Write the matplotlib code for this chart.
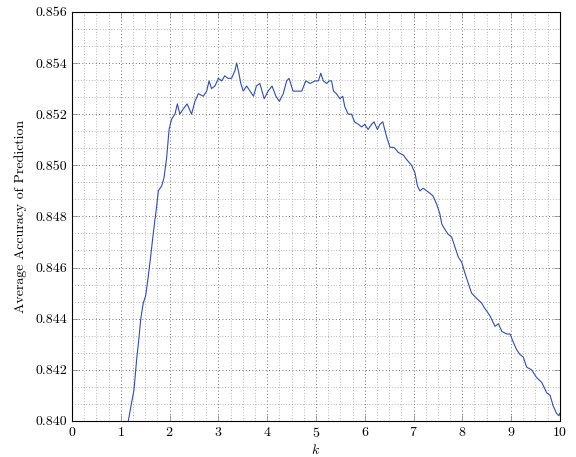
import matplotlib
matplotlib.use('Agg')
import matplotlib.pyplot as plt
from matplotlib.ticker import MultipleLocator, AutoMinorLocator, FormatStrFormatter

# values
k = [1.12, 1.154, 1.22, 1.27, 1.325, 1.37, 1.41, 1.46, 1.51, 1.56, 1.61, 1.67,
     1.735, 1.77, 1.84, 1.885, 1.94, 1.99, 2.04, 2.11, 2.16, 2.21, 2.28, 2.36,
     2.45, 2.52, 2.59, 2.69, 2.76, 2.81, 2.86, 2.93, 3.0, 3.07, 3.13, 3.2, 3.27,
     3.34, 3.375, 3.41, 3.46, 3.51, 3.58, 3.65, 3.72, 3.78, 3.85, 3.94, 4.02,
     4.10, 4.18, 4.25, 4.33, 4.40, 4.45, 4.53, 4.62, 4.71, 4.79, 4.88, 4.98,
     5.05, 5.10, 5.15, 5.22, 5.27, 5.32, 5.36, 5.42, 5.49, 5.55, 5.59, 5.66,
     5.73, 5.79, 5.87, 5.94, 6.0, 6.07, 6.14, 6.19, 6.26, 6.31, 6.37, 6.41,
     6.45, 6.52, 6.60, 6.69, 6.79, 6.87, 6.96, 7.03, 7.08, 7.13, 7.20, 7.27,
     7.34, 7.40, 7.47, 7.54, 7.58, 7.64, 7.71, 7.78, 7.85, 7.92, 7.99, 8.05,
     8.12, 8.19, 8.29, 8.40, 8.46, 8.50, 8.57, 8.67, 8.74, 8.81, 8.91, 8.98,
     9.04, 9.11, 9.18, 9.25, 9.32, 9.42, 9.52, 9.63, 9.73, 9.80, 9.86, 9.93,
     9.98, 10.0]
acc = [0.8398, 0.8400, 0.8407, 0.8412, 0.8424, 0.8432, 0.8440, 0.8446, 0.8449,
       0.8456, 0.8464, 0.8474, 0.8484, 0.8490, 0.8492, 0.8495, 0.8503, 0.8514,
       0.8518, 0.8520, 0.8524, 0.8520, 0.8522, 0.8524, 0.8520, 0.8525, 0.8528,
       0.8527, 0.8529, 0.8533, 0.8530, 0.8531, 0.8534, 0.8533, 0.8535, 0.8534,
       0.8534, 0.8537, 0.8540, 0.8537, 0.8532, 0.8529, 0.8531, 0.8529, 0.8527,
       0.8531, 0.8532, 0.8526, 0.8529, 0.8531, 0.8527, 0.8525, 0.8528, 0.8533,
       0.8534, 0.8529, 0.8529, 0.8529, 0.8533, 0.8532, 0.8533, 0.8533, 0.8536,
       0.8533, 0.8532, 0.8533, 0.8533, 0.8529, 0.8528, 0.8526, 0.8527, 0.8523,
       0.8520, 0.8520, 0.8517, 0.8516, 0.8515, 0.8516, 0.8514, 0.8516, 0.8517,
       0.8514, 0.8516, 0.8517, 0.8514, 0.8511, 0.8507, 0.8507, 0.8505, 0.8504,
       0.8502, 0.8500, 0.8497, 0.8492, 0.8490, 0.8491, 0.8490, 0.8489, 0.8488,
       0.8485, 0.8481, 0.8477, 0.8475, 0.8473, 0.8472, 0.8468, 0.8464, 0.8462,
       0.8458, 0.8454, 0.8450, 0.8448, 0.8446, 0.8444, 0.8443, 0.8441, 0.8437,
       0.8438, 0.8435, 0.8434, 0.8434, 0.8431, 0.8428, 0.8426, 0.8425, 0.8421,
       0.8420, 0.8417, 0.8415, 0.8411, 0.8410, 0.8406, 0.8403, 0.8402, 0.8403]

plt.rcParams['font.family'] = 'cmr10'
plt.rcParams['mathtext.fontset'] = 'cm'
plt.rcParams['axes.formatter.use_mathtext'] = True
plt.rcParams['font.size'] = 10

fig = plt.figure(figsize=(5.76, 4.57), dpi=100)
ax = fig.add_axes([0.125, 0.079, 0.847, 0.895])

ax.plot(k, acc, color='#2f4fa5', lw=0.8)

ax.set_xlim(0, 10)
ax.set_ylim(0.840, 0.856)
ax.xaxis.set_major_locator(MultipleLocator(1))
ax.xaxis.set_minor_locator(AutoMinorLocator(4))
ax.yaxis.set_major_locator(MultipleLocator(0.002))
ax.yaxis.set_minor_locator(AutoMinorLocator(3))
ax.yaxis.set_major_formatter(FormatStrFormatter('%.3f'))

ax.grid(which='major', linestyle=(0, (1, 3)), color='0.25', lw=0.6)
ax.grid(which='minor', linestyle=(0, (1, 3)), color='0.45', lw=0.5)
ax.tick_params(which='both', direction='in', top=True, right=True)
ax.tick_params(which='major', length=4, width=0.5, color='0.5')
ax.tick_params(which='minor', length=0)
for s in ax.spines.values():
    s.set_linewidth(0.8)

ax.set_xlabel('$k$', labelpad=2)
ax.set_ylabel('Average Accuracy of Prediction', labelpad=6)

plt.savefig('out.png', dpi=100)
